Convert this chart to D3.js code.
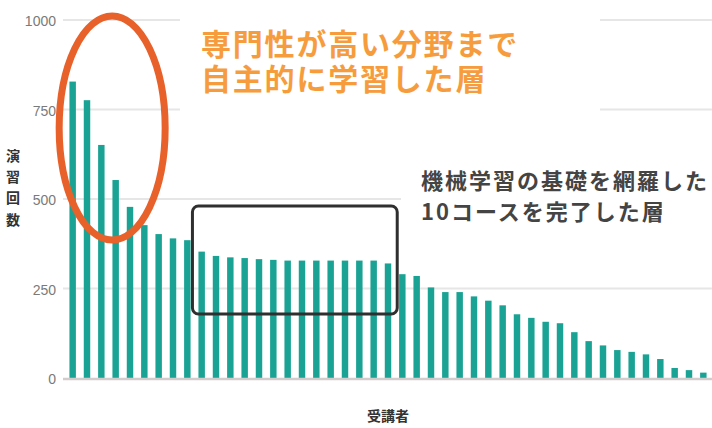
<!DOCTYPE html>
<html>
<head>
<meta charset="utf-8">
<script src="https://cdn.jsdelivr.net/npm/d3@7"></script>
<style>
html,body{margin:0;padding:0;background:#fff;}
svg{display:block;}
</style>
</head>
<body>
<svg id="chart" width="712" height="428"></svg>
<script>
// ---- data ----
const learners = d3.range(45).map(i => "受講者" + (i + 1));
const practiceCounts = [828, 776, 651, 553, 478, 427, 402, 390, 385, 353,
  341, 337, 335, 332, 330, 328, 328, 328, 328, 328,
  328, 328, 320, 290, 285, 253, 240, 240, 228, 216,
  203, 178, 168, 157, 153, 128, 103, 91, 78, 73,
  66, 53, 28, 22, 15];
const yTicks = [0, 250, 500, 750, 1000];
const yTitle = ["演", "習", "回", "数"];
const xTitle = "受講者";
const noteExpert = ["専門性が高い分野まで", "自主的に学習した層"];
const noteCourse = ["機械学習の基礎を網羅した", "10コースを完了した層"];
const courseRangeStart = 9, courseRangeEnd = 22; // bars inside the black box
const expertRangeStart = 0, expertRangeEnd = 3;  // bars inside the orange ellipse

const svg = d3.select("#chart");
const x = d3.scaleBand().domain(learners).range([65.5, 710.5]).paddingInner(0.55).paddingOuter(0.275);
const y = d3.scaleLinear().domain([0, 1000]).range([378, 20]);

// gridlines
svg.append("g").selectAll("line").data(yTicks.filter(d => d > 0)).join("line")
  .attr("x1", 63).attr("x2", 712)
  .attr("y1", d => y(d)).attr("y2", d => y(d))
  .attr("stroke", "#e6e6e6").attr("stroke-width", 2);

// tick labels
svg.append("g").selectAll("text").data(yTicks).join("text")
  .attr("x", 56).attr("y", d => y(d) + 1)
  .attr("text-anchor", "end").attr("dominant-baseline", "central")
  .attr("font-family", "'Liberation Sans Narrow', 'Liberation Sans', sans-serif")
  .attr("font-size", 14).attr("fill", "#7a7a7a")
  .text(d => d);

// white backgrounds behind annotation text
svg.append("rect").attr("x", 180).attr("y", 0).attr("width", 420).attr("height", 118).attr("fill", "#fff");
svg.append("rect").attr("x", 401).attr("y", 150).attr("width", 311).attr("height", 80).attr("fill", "#fff");

// bars
svg.append("g").selectAll("rect").data(practiceCounts).join("rect")
  .attr("x", (d, i) => x(learners[i]))
  .attr("width", x.bandwidth())
  .attr("y", d => y(d))
  .attr("height", d => y(0) - y(d))
  .attr("fill", "#1aa394");

// baseline
svg.append("line").attr("x1", 63).attr("x2", 712).attr("y1", y(0) + 1).attr("y2", y(0) + 1)
  .attr("stroke", "#d3cccc").attr("stroke-width", 2.5);

// axis titles
svg.append("text")
  .attr("font-family", "'Noto Sans CJK JP', sans-serif").attr("font-weight", "bold")
  .attr("font-size", 14).attr("fill", "#333").attr("text-anchor", "middle")
  .selectAll("tspan").data(yTitle).join("tspan")
  .attr("x", 13).attr("y", (d, i) => 161 + i * 21.2)
  .text(d => d);

svg.append("text").attr("x", 388).attr("y", 421)
  .attr("text-anchor", "middle")
  .attr("font-family", "'Noto Sans CJK JP', sans-serif").attr("font-weight", "bold")
  .attr("font-size", 14).attr("fill", "#333")
  .text(xTitle);

// black rounded box around the plateau bars
const bx0 = x(learners[courseRangeStart]) - 6, bx1 = x(learners[courseRangeEnd]) + x.bandwidth() + 6;
svg.append("rect").attr("x", bx0).attr("y", 206).attr("width", bx1 - bx0).attr("height", 108)
  .attr("rx", 6).attr("fill", "none").attr("stroke", "#2f2f2f").attr("stroke-width", 3);

// orange ellipse around the top bars
const ex0 = x(learners[expertRangeStart]), ex1 = x(learners[expertRangeEnd]) + x.bandwidth();
svg.append("ellipse").attr("cx", (ex0 + ex1) / 2 + 18).attr("cy", 128).attr("rx", 53).attr("ry", 112)
  .attr("fill", "none").attr("stroke", "#e8612a").attr("stroke-width", 7);

// annotation texts
svg.append("text")
  .attr("font-family", "'Noto Sans CJK JP', sans-serif").attr("font-weight", "bold")
  .attr("font-size", 30).attr("letter-spacing", 1.8).attr("fill", "#f69c3c")
  .selectAll("tspan").data(noteExpert).join("tspan")
  .attr("x", 201).attr("y", (d, i) => 55 + i * 35)
  .text(d => d);

svg.append("text")
  .attr("font-family", "'Noto Sans CJK JP', sans-serif").attr("font-weight", "bold")
  .attr("font-size", 22).attr("letter-spacing", 2).attr("fill", "#444")
  .selectAll("tspan").data(noteCourse).join("tspan")
  .attr("x", 421).attr("y", (d, i) => 188.5 + i * 31)
  .text(d => d);
</script>
</body>
</html>
